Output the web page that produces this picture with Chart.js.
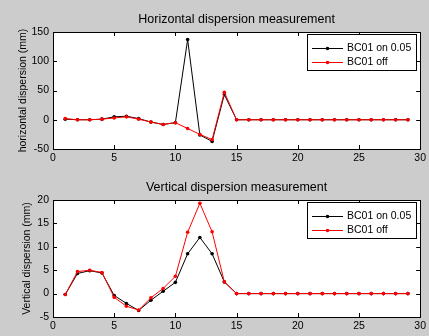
<!DOCTYPE html>
<html>
<head>
<meta charset="utf-8">
<script src="https://cdn.jsdelivr.net/npm/chart.js@4"></script>
<style>
html, body { margin: 0; padding: 0; background: #cccccc; }
.box { width: 429px; height: 168px; }
canvas { display: block; }
</style>
</head>
<body>
<div class="box"><canvas id="hChart" width="429" height="168"></canvas></div>
<div class="box"><canvas id="vChart" width="429" height="168"></canvas></div>
<script>
// monitor index 1..29
const monitors = [1,2,3,4,5,6,7,8,9,10,11,12,13,14,15,16,17,18,19,20,21,22,23,24,25,26,27,28,29];

// horizontal dispersion (mm)
const hOn  = [1,0,0,1,5,6,2,-4,-8,-5,137,-26,-37,43,0,0,0,0,0,0,0,0,0,0,0,0,0,0,0];
const hOff = [2,0,0,1,3,5,1,-4,-8,-5,-15,-25,-34,47,0,0,0,0,0,0,0,0,0,0,0,0,0,0,0];

// vertical dispersion (mm)
const vOn  = [-0.2,4.3,4.9,4.4,-0.4,-2.1,-3.6,-1.4,0.5,2.4,8.5,12,8.5,2.5,0,0,0,0,0,0,0,0,0,0,0,0,0,0,0];
const vOff = [-0.2,4.7,5.0,4.5,-0.8,-2.7,-3.5,-0.9,1.1,3.7,13.1,19.3,13.2,2.5,0,0,0,0,0,0,0,0,0,0,0,0,0,0,0];

const seriesNames = ['BC01 on 0.05', 'BC01 off'];
const seriesColors = ['#000000', '#ff0000'];

const FONT = "'Liberation Sans', Arial, sans-serif";

// MATLAB-ish frame: gray figure, white axes, inward ticks, title, legend box
const matlabFrame = {
    id: 'matlabFrame',
    beforeDraw(chart) {
        const ctx = chart.ctx;
        const a = chart.chartArea;
        ctx.save();
        ctx.fillStyle = '#cccccc';
        ctx.fillRect(0, 0, chart.width, chart.height);
        ctx.fillStyle = '#ffffff';
        ctx.fillRect(a.left, a.top, a.right - a.left, a.bottom - a.top);
        ctx.restore();
    },
    afterDraw(chart, args, opts) {
        const ctx = chart.ctx;
        const a = chart.chartArea;
        const xs = chart.scales.x, ys = chart.scales.y;
        ctx.save();
        ctx.strokeStyle = '#000';
        ctx.lineWidth = 1;
        ctx.strokeRect(Math.round(a.left) + 0.5, Math.round(a.top) + 0.5,
            Math.round(a.right - a.left), Math.round(a.bottom - a.top));
        const tl = 4;
        ctx.beginPath();
        xs.ticks.forEach(t => {
            const px = Math.round(xs.getPixelForValue(t.value)) + 0.5;
            ctx.moveTo(px, a.bottom); ctx.lineTo(px, a.bottom - tl);
            ctx.moveTo(px, a.top); ctx.lineTo(px, a.top + tl);
        });
        ys.ticks.forEach(t => {
            const py = Math.round(ys.getPixelForValue(t.value)) + 0.5;
            ctx.moveTo(a.left, py); ctx.lineTo(a.left + tl, py);
            ctx.moveTo(a.right, py); ctx.lineTo(a.right - tl, py);
        });
        ctx.stroke();

        // title
        ctx.fillStyle = '#000';
        ctx.font = '12.5px ' + FONT;
        ctx.textAlign = 'center';
        ctx.textBaseline = 'middle';
        ctx.fillText(opts.title, (a.left + a.right) / 2, 20);

        // legend
        const lx = 307, ly = 34, lw = 109, lh = 36;
        ctx.fillStyle = '#fff';
        ctx.fillRect(lx, ly, lw, lh);
        ctx.strokeRect(lx + 0.5, ly + 0.5, lw, lh);
        ctx.font = '10.5px ' + FONT;
        ctx.textAlign = 'left';
        chart.data.datasets.forEach((ds, i) => {
            const y = ly + 14 + i * 14 + 0.5;
            ctx.strokeStyle = ds.borderColor;
            ctx.beginPath();
            ctx.moveTo(312, y); ctx.lineTo(343, y);
            ctx.stroke();
            ctx.fillStyle = ds.borderColor;
            ctx.beginPath();
            ctx.arc(327.5, y, 1.8, 0, Math.PI * 2);
            ctx.fill();
            ctx.fillStyle = '#000';
            ctx.fillText(ds.label, 347, y);
        });
        ctx.restore();
    }
};

function makeChart(id, onData, offData, yMin, yMax, yStep, yTitle, title, titlePad) {
    const tickFont = { family: FONT, size: 10.5 };
    return new Chart(document.getElementById(id), {
        type: 'line',
        data: {
            labels: monitors,
            datasets: [
                { label: seriesNames[0], data: monitors.map((m, i) => ({ x: m, y: onData[i] })),
                  borderColor: seriesColors[0], backgroundColor: seriesColors[0],
                  borderWidth: 1, pointRadius: 1.8, pointBorderWidth: 0, tension: 0, order: 2 },
                { label: seriesNames[1], data: monitors.map((m, i) => ({ x: m, y: offData[i] })),
                  borderColor: seriesColors[1], backgroundColor: seriesColors[1],
                  borderWidth: 1, pointRadius: 1.8, pointBorderWidth: 0, tension: 0, order: 1 }
            ]
        },
        options: {
            responsive: false,
            animation: false,
            layout: { padding: { top: 32, right: 8, left: 0, bottom: 0 } },
            plugins: {
                legend: { display: false },
                tooltip: { enabled: false },
                matlabFrame: { title: title }
            },
            scales: {
                x: {
                    type: 'linear', min: 0, max: 30,
                    ticks: { stepSize: 5, color: '#000', font: tickFont, padding: 3, maxRotation: 0 },
                    grid: { display: false, drawTicks: false },
                    border: { display: false },
                    afterFit: s => { s.height = 19; }
                },
                y: {
                    min: yMin, max: yMax,
                    ticks: { stepSize: yStep, color: '#000', font: tickFont, padding: 4 },
                    grid: { display: false, drawTicks: false },
                    border: { display: false },
                    title: { display: true, text: yTitle, color: '#000', font: tickFont, padding: { top: titlePad, bottom: 0 } },
                    afterFit: s => { s.width = 53; }
                }
            }
        },
        plugins: [matlabFrame]
    });
}

makeChart('hChart', hOn, hOff, -50, 150, 50, 'horizontal dispersion (mm)', 'Horizontal dispersion measurement', 17);
makeChart('vChart', vOn, vOff, -5, 20, 5, 'Vertical dispersion (mm)', 'Vertical dispersion measurement', 21);
</script>
</body>
</html>
